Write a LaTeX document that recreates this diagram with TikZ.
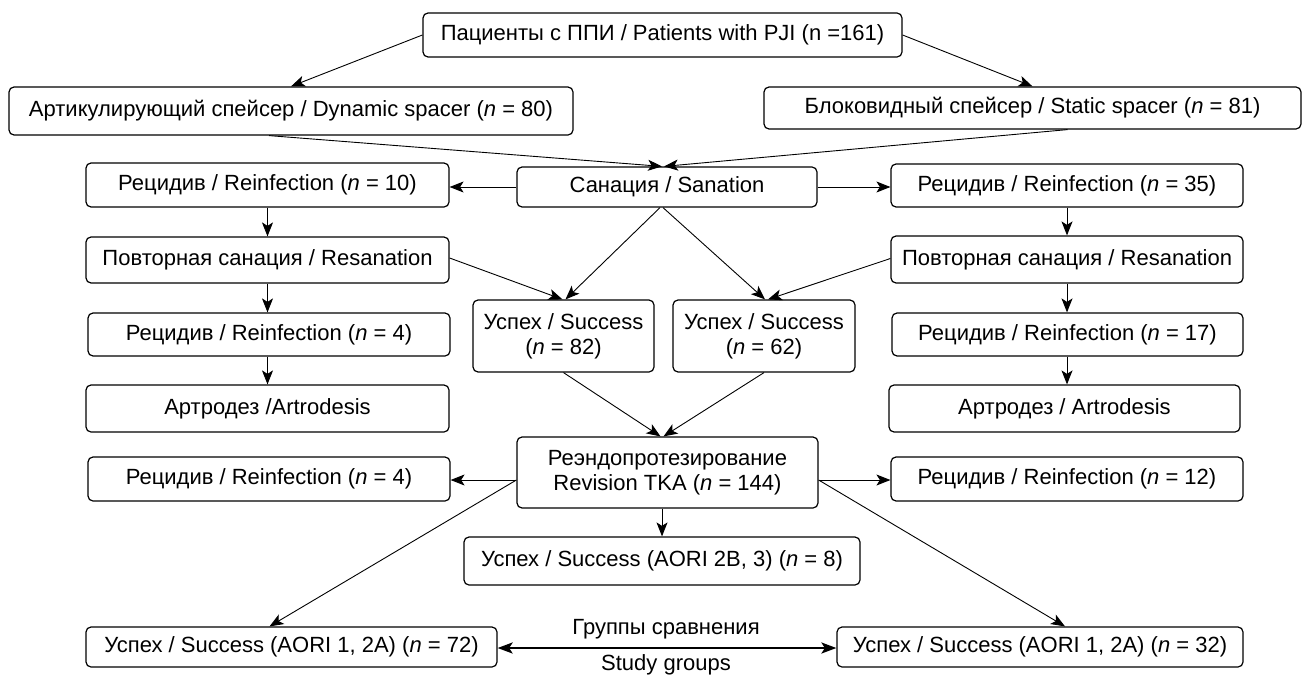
\documentclass[tikz,border=0pt]{standalone}
\usepackage{fontspec}
\setmainfont{Liberation Sans}
\usetikzlibrary{arrows.meta,calc}
\begin{document}
\begin{tikzpicture}[x=1pt,y=-1pt,
  box/.style={draw, line width=1.2pt, rounded corners=5pt, inner sep=0pt, align=center,
    font=\fontsize{22}{25}\selectfont},
  conn/.style={line width=0.9pt, -{Stealth[length=14pt,width=11pt,inset=3.5pt]}},
  lbl/.style={inner sep=0pt, font=\fontsize{22}{25}\selectfont}]
\useasboundingbox (0,0) rectangle (1309,677);
\fill[white] (0,0) rectangle (1309,677);
\node[box, minimum width=479pt, minimum height=44pt] (top) at (662.5,35) {Пациенты с ППИ / Patients with PJI (n =161)};
\node[box, minimum width=564pt, minimum height=48pt] (dyn) at (291,111) {Артикулирующий спейсер / Dynamic spacer (\textit{n} = 80)};
\node[box, minimum width=537pt, minimum height=42pt] (stat) at (1032.5,108) {Блоковидный спейсер / Static spacer (\textit{n} = 81)};
\node[box, minimum width=300pt, minimum height=40pt] (san) at (667,187) {Санация / Sanation};
\node[box, minimum width=363pt, minimum height=44pt] (r10) at (267.5,185) {Рецидив / Reinfection (\textit{n} = 10)};
\node[box, minimum width=352pt, minimum height=43pt] (r35) at (1067,185.5) {Рецидив / Reinfection (\textit{n} = 35)};
\node[box, minimum width=363pt, minimum height=46pt] (resL) at (267.5,260) {Повторная санация / Resanation};
\node[box, minimum width=352pt, minimum height=47pt] (resR) at (1067,259.5) {Повторная санация / Resanation};
\node[box, minimum width=181pt, minimum height=72pt] (s82) at (563.5,336) {Успех / Success\\(\textit{n} = 82)};
\node[box, minimum width=182pt, minimum height=72pt] (s62) at (764,336) {Успех / Success\\(\textit{n} = 62)};
\node[box, minimum width=362pt, minimum height=43pt] (r4a) at (269,334.5) {Рецидив / Reinfection (\textit{n} = 4)};
\node[box, minimum width=351pt, minimum height=43pt] (r17) at (1067.5,334.5) {Рецидив / Reinfection (\textit{n} = 17)};
\node[box, minimum width=363pt, minimum height=47pt] (artL) at (267.5,408.5) {Артродез /Artrodesis};
\node[box, minimum width=351pt, minimum height=47pt] (artR) at (1064.5,408.5) {Артродез / Artrodesis};
\node[box, minimum width=301pt, minimum height=71pt] (rev) at (667.5,472.5) {Реэндопротезирование\\Revision TKA (\textit{n} = 144)};
\node[box, minimum width=362pt, minimum height=44pt] (r4b) at (269,479) {Рецидив / Reinfection (\textit{n} = 4)};
\node[box, minimum width=352pt, minimum height=44pt] (r12) at (1067,479) {Рецидив / Reinfection (\textit{n} = 12)};
\node[box, minimum width=396pt, minimum height=48pt] (s8) at (662,561) {Успех / Success (AORI 2B, 3) (\textit{n} = 8)};
\node[box, minimum width=411pt, minimum height=40pt] (s72) at (291.5,647) {Успех / Success (AORI 1, 2A) (\textit{n} = 72)};
\node[box, minimum width=406pt, minimum height=40pt] (s32) at (1040,647) {Успех / Success (AORI 1, 2A) (\textit{n} = 32)};
\node[lbl] (grp) at (666,629) {Группы сравнения};
\node[lbl] (stud) at (666,665) {Study groups};
\coordinate (revW) at ([yshift=-7.5pt]rev.west);
\coordinate (revE) at ([yshift=-7.5pt]rev.east);
% connectors
\draw[conn] (top.west) -- (dyn.north);
\draw[conn] (top.east) -- (stat.north);
\draw[conn] ([xshift=-22pt]dyn.south) -- ([xshift=-5pt]san.north);
\draw[conn] ([xshift=35pt]stat.south) -- ([xshift=-3pt]san.north);
\draw[conn] (san.west) -- (r10.east |- san.west);
\draw[conn] (san.east) -- (r35.west |- san.east);
\draw[conn] (r10.south) -- (r10.south |- resL.north);
\draw[conn] (resL.south) -- (resL.south |- r4a.north);
\draw[conn] (r4a.south -| resL.south) -- (resL.south |- artL.north);
\draw[conn] (r35.south) -- (r35.south |- resR.north);
\draw[conn] (resR.south) -- (resR.south |- r17.north);
\draw[conn] (r17.south -| resR.south) -- (resR.south |- artR.north);
\draw[conn] ([xshift=-7pt]san.south) -- ([xshift=2pt]s82.north);
\draw[conn] ([xshift=-4pt]san.south) -- ([xshift=1pt]s62.north);
\draw[conn] ([yshift=2pt]resL.east) -- ([xshift=-1pt]s82.north);
\draw[conn] ([yshift=1pt]resR.west) -- ([xshift=4pt]s62.north);
\draw[conn] (s82.south) -- ([xshift=-7pt]rev.north);
\draw[conn] (s62.south) -- ([xshift=-4pt]rev.north);
\draw[conn] (revW) -- (r4b.east |- revW);
\draw[conn] (revE) -- (r12.west |- revE);
\draw[conn] (s8.north |- rev.south) -- (s8.north);
\draw[conn] (revW) -- ([xshift=-22pt]s72.north);
\draw[conn] (revE) -- ([xshift=25pt]s32.north);
\draw[line width=2.4pt, {Stealth[length=15pt,width=11pt,inset=3.5pt]}-{Stealth[length=15pt,width=11pt,inset=3.5pt]}] ([yshift=-1pt]s72.east) -- ([yshift=-1pt]s32.west);
\end{tikzpicture}
\end{document}
